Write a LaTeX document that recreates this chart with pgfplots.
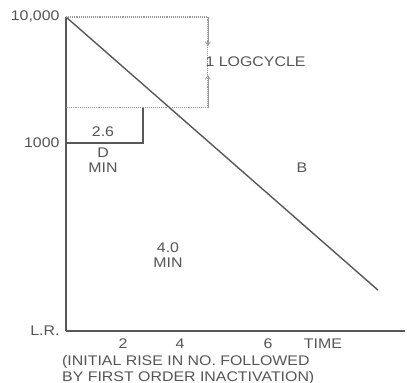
\documentclass[border=0pt]{standalone}
\usepackage{fontspec}
\setmainfont{Liberation Sans}[FakeStretch=1.14]
\usepackage{pgfplots}
\pgfplotsset{compat=1.18}
\usetikzlibrary{arrows.meta}
\definecolor{axgray}{HTML}{585858}
\definecolor{txtgray}{HTML}{555555}
\definecolor{dotgray}{HTML}{999999}
\begin{document}
\begin{tikzpicture}
\path[use as bounding box] (0,0) rectangle (407bp,383bp);
\begin{axis}[
  at={(66bp,52bp)}, anchor=south west,
  scale only axis, width=339bp, height=314bp,
  xmin=0, xmax=11.9,
  ymode=log, ymin=32.2, ymax=10000,
  axis x line=bottom, axis y line=left,
  axis line style={-, axgray, line width=1.8pt},
  major tick length=0pt, minor tick num=0,
  xtick={2,4,7.09,9.02}, xticklabels={2,4,6,TIME},
  ytick={10000,1000,32.2}, yticklabels={{10,000},1000,L.R.},
  yminorticks=false, log basis y=10,
  xticklabel style={font=\fontsize{14}{15}\selectfont, text=txtgray, yshift=-4bp},
  yticklabel style={font=\fontsize{14}{15}\selectfont, text=txtgray, xshift=-3bp},
  /pgf/number format/assume math mode=true,
  clip=false,
]
% main inactivation line
\addplot[axgray, line width=1.4pt] coordinates {(0,10000) (10.95,68)};
% dotted log-cycle guides
\addplot[dotgray, densely dotted, line width=1.1pt] coordinates {(0,10000) (4.98,10000) (4.98,1900) (0,1900)};
\addplot[dotgray, line width=0.7pt, -{Straight Barb[length=3.5bp,width=5bp]}] coordinates {(4.98,10000) (4.98,5900)};
\addplot[dotgray, line width=0.7pt, -{Straight Barb[length=3.5bp,width=5bp]}] coordinates {(4.98,1900) (4.98,3450)};
% D bracket
\addplot[axgray, line width=1.3pt] coordinates {(0,1000) (2.7,1000) (2.7,1900)};
\node[text=txtgray, font=\fontsize{14}{15}\selectfont] at (axis cs:1.3,1222) {2.6};
\node[text=txtgray, font=\fontsize{14}{15}\selectfont, align=center] at (axis cs:1.3,735) {D\\MIN};
\node[text=txtgray, font=\fontsize{14}{15}\selectfont, anchor=west, inner sep=1pt] at (axis cs:4.86,4400) {1 LOGCYCLE};
\node[text=txtgray, font=\fontsize{14}{15}\selectfont] at (axis cs:8.28,631) {B};
\node[text=txtgray, font=\fontsize{14}{15}\selectfont, align=center] at (axis cs:3.58,128) {4.0\\MIN};
\end{axis}
\node[anchor=north west, align=left, text=txtgray, font=\fontsize{14}{16}\selectfont, inner sep=0pt] at (62bp,28bp) {(INITIAL RISE IN NO. FOLLOWED\\BY FIRST ORDER INACTIVATION)};
\end{tikzpicture}
\end{document}
